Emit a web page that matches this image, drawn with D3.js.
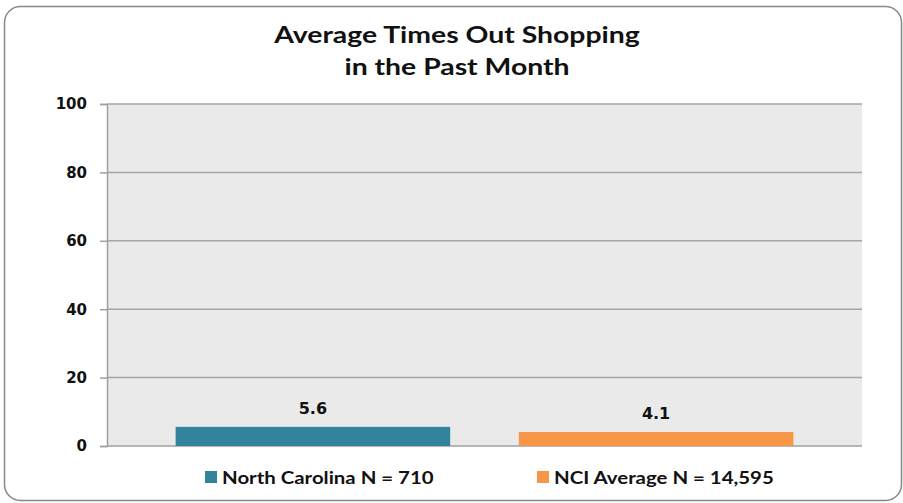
<!DOCTYPE html>
<html>
<head>
<style>
body { margin: 0; background: #fff; }
svg { display: block; }
</style>
<script src="https://cdn.jsdelivr.net/npm/d3@7"></script>
</head>
<body>
<script>
var categories = ["North Carolina N = 710", "NCI Average N = 14,595"];
var values = [5.6, 4.1];
var colors = ["#31849B", "#F79646"];
var yTicks = [0, 20, 40, 60, 80, 100];
var titleLines = ["Average Times Out Shopping", "in the Past Month"];

var width = 903, height = 503;
var margin = {top: 104, right: 41, bottom: 57, left: 107};

var svg = d3.select("body").append("svg")
  .attr("width", width)
  .attr("height", height);

// outer frame
svg.append("rect")
  .attr("x", 4.5).attr("y", 6.5)
  .attr("width", 897).attr("height", 494)
  .attr("rx", 16)
  .attr("fill", "#fff")
  .attr("stroke", "#888").attr("stroke-width", 1.5);

// title is a stretched Calibri in the original, so widen Lato a bit
svg.append("g")
  .attr("transform", "translate(457,0) scale(1.29,1)")
  .selectAll("text")
  .data(titleLines)
  .enter().append("text")
  .attr("x", 0)
  .attr("y", function(d, i) { return 43 + i * 32; })
  .attr("text-anchor", "middle")
  .style("font-family", "Lato, 'Open Sans', sans-serif")
  .style("font-weight", "bold")
  .style("font-size", "22px")
  .attr("fill", "#111")
  .text(function(d) { return d; });

var pw = width - margin.left - margin.right,
    ph = height - margin.top - margin.bottom;

var g = svg.append("g").attr("transform", "translate(" + margin.left + "," + margin.top + ")");

var x = d3.scaleBand().domain(categories).range([0, pw]).padding(0.2);
var y = d3.scaleLinear().domain([0, 100]).range([ph, 0]);

g.append("rect")
  .attr("width", pw).attr("height", ph)
  .attr("fill", "#EAEAEA");

// gridlines
g.append("g").selectAll("line")
  .data(yTicks.slice(1))
  .enter().append("line")
  .attr("x1", 0).attr("x2", pw)
  .attr("y1", function(d) { return y(d); })
  .attr("y2", function(d) { return y(d); })
  .attr("stroke", "#A6A6A6").attr("stroke-width", 1.5);

var yAxis = g.append("g")
  .call(d3.axisLeft(y).tickValues(yTicks).tickSize(7).tickPadding(13));
yAxis.select(".domain").attr("stroke", "#A0A0A0").attr("stroke-width", 1.5);
yAxis.selectAll(".tick line").attr("stroke", "#A0A0A0").attr("stroke-width", 1.5);
yAxis.selectAll("text")
  .style("font-family", "'DejaVu Sans', Verdana, sans-serif")
  .style("font-weight", "bold")
  .style("font-size", "15px")
  .attr("fill", "#111");

g.append("line")
  .attr("x1", 0).attr("x2", pw)
  .attr("y1", ph).attr("y2", ph)
  .attr("stroke", "#A0A0A0").attr("stroke-width", 1.5);

g.append("g").selectAll("rect")
  .data(values)
  .enter().append("rect")
  .attr("x", function(d, i) { return x(categories[i]); })
  .attr("y", function(d) { return y(d); })
  .attr("width", x.bandwidth())
  .attr("height", function(d) { return ph - y(d); })
  .attr("fill", function(d, i) { return colors[i]; });

g.append("g").selectAll("text")
  .data(values)
  .enter().append("text")
  .attr("x", function(d, i) { return x(categories[i]) + x.bandwidth() / 2; })
  .attr("y", function(d) { return y(d) - 13; })
  .attr("text-anchor", "middle")
  .style("font-family", "'DejaVu Sans', Verdana, sans-serif")
  .style("font-weight", "bold")
  .style("font-size", "16px")
  .attr("fill", "#111")
  .text(function(d) { return d.toFixed(1); });

// legend
var legendX = [205, 537];
var legend = svg.append("g").selectAll("g")
  .data(categories)
  .enter().append("g")
  .attr("transform", function(d, i) { return "translate(" + legendX[i] + ",471)"; });
legend.append("rect")
  .attr("width", 12).attr("height", 12)
  .attr("fill", function(d, i) { return colors[i]; });
legend.append("text")
  .attr("transform", "translate(17,13) scale(1.2,1)")
  .style("font-family", "Lato, 'Open Sans', sans-serif")
  .style("font-weight", "bold")
  .style("font-size", "17px")
  .attr("fill", "#111")
  .text(function(d) { return d; });
</script>
</body>
</html>
